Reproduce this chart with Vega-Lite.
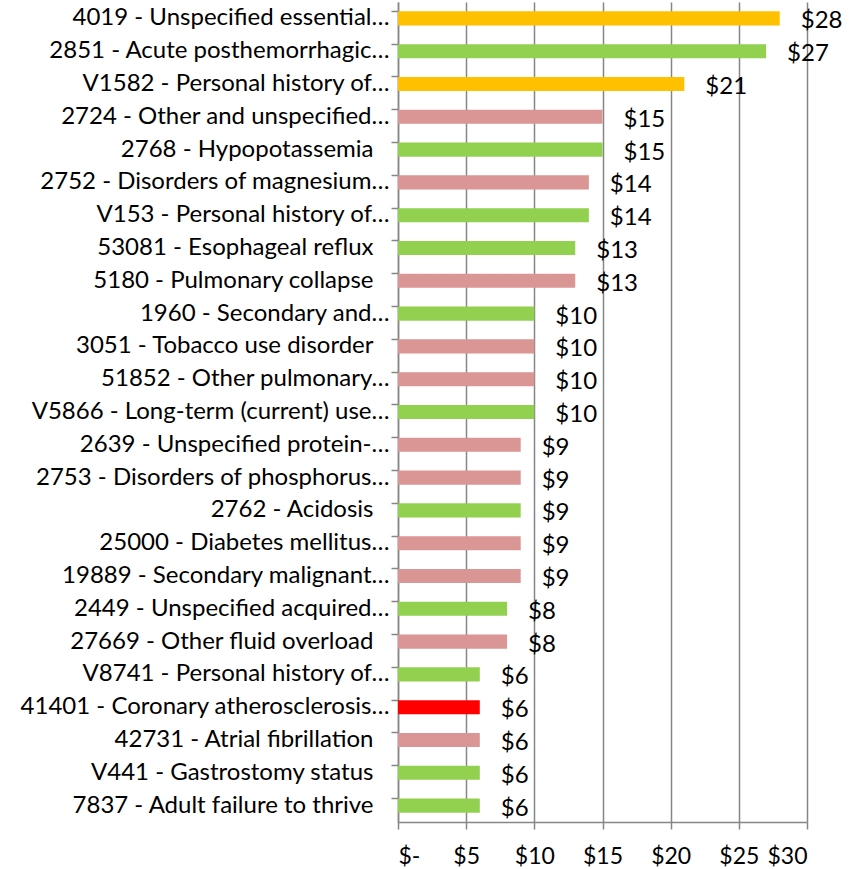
{
  "$schema": "https://vega.github.io/schema/vega-lite/v6.json",
  "autosize": "none",
  "width": 409,
  "height": 820,
  "padding": {"left": 398, "top": 2, "right": 50, "bottom": 47},
  "background": "white",
  "config": {"view": {"stroke": null}, "font": "Lato"},
  "data": {"values": [
    {"label": "4019 - Unspecified essential\u2026", "value": 28, "group": "orange"},
    {"label": "2851 - Acute posthemorrhagic\u2026", "value": 27, "group": "green"},
    {"label": "V1582 - Personal history of\u2026", "value": 21, "group": "orange"},
    {"label": "2724 - Other and unspecified\u2026", "value": 15, "group": "pink"},
    {"label": "2768 - Hypopotassemia", "value": 15, "group": "green"},
    {"label": "2752 - Disorders of magnesium\u2026", "value": 14, "group": "pink"},
    {"label": "V153 - Personal history of\u2026", "value": 14, "group": "green"},
    {"label": "53081 - Esophageal reflux", "value": 13, "group": "green"},
    {"label": "5180 - Pulmonary collapse", "value": 13, "group": "pink"},
    {"label": "1960 - Secondary and\u2026", "value": 10, "group": "green"},
    {"label": "3051 - Tobacco use disorder", "value": 10, "group": "pink"},
    {"label": "51852 - Other pulmonary\u2026", "value": 10, "group": "pink"},
    {"label": "V5866 - Long-term (current) use\u2026", "value": 10, "group": "green"},
    {"label": "2639 - Unspecified protein-\u2026", "value": 9, "group": "pink"},
    {"label": "2753 - Disorders of phosphorus\u2026", "value": 9, "group": "pink"},
    {"label": "2762 - Acidosis", "value": 9, "group": "green"},
    {"label": "25000 - Diabetes mellitus\u2026", "value": 9, "group": "pink"},
    {"label": "19889 - Secondary malignant\u2026", "value": 9, "group": "pink"},
    {"label": "2449 - Unspecified acquired\u2026", "value": 8, "group": "green"},
    {"label": "27669 - Other fluid overload", "value": 8, "group": "pink"},
    {"label": "V8741 - Personal history of\u2026", "value": 6, "group": "green"},
    {"label": "41401 - Coronary atherosclerosis\u2026", "value": 6, "group": "red"},
    {"label": "42731 - Atrial fibrillation", "value": 6, "group": "pink"},
    {"label": "V441 - Gastrostomy status", "value": 6, "group": "green"},
    {"label": "7837 - Adult failure to thrive", "value": 6, "group": "green"}
  ]},
  "encoding": {
    "y": {
      "field": "label", "type": "nominal", "sort": null,
      "scale": {"paddingInner": 0.57, "paddingOuter": 0.285},
      "axis": {
        "title": null, "bandPosition": 0, "tickSize": 7,
        "labelPadding": {"condition": {"test": "replace(datum.value, '\u2026', '') == datum.value", "value": 18}, "value": 2},
        "labelFontSize": 24, "labelColor": "#000000", "labelLimit": 400,
        "domainColor": "#868686", "domainWidth": 1.5, "tickColor": "#868686", "tickWidth": 1.5,
        "grid": false
      }
    },
    "x": {
      "field": "value", "type": "quantitative",
      "scale": {"domain": [0, 30], "nice": false},
      "axis": {
        "title": null, "values": [0, 5, 10, 15, 20, 25, 30],
        "labelExpr": "datum.value == 0 ? '$-' : '$' + datum.value",
        "labelFontSize": 23, "labelColor": "#000000", "labelPadding": 16,
        "tickSize": 7, "tickColor": "#868686", "tickWidth": 1.5,
        "domainColor": "#868686", "domainWidth": 1.5,
        "grid": true, "gridColor": "#868686", "gridWidth": 1.5
      }
    }
  },
  "layer": [
    {
      "mark": {"type": "bar"},
      "encoding": {
        "color": {
          "field": "group", "type": "nominal", "legend": null,
          "scale": {"domain": ["orange", "green", "pink", "red"], "range": ["#FFC000", "#92D050", "#D99694", "#FF0000"]}
        }
      }
    },
    {
      "mark": {"type": "text", "align": "left", "baseline": "middle", "dx": 21, "dy": 3, "fontSize": 24, "color": "#000000"},
      "encoding": {
        "text": {"field": "value", "type": "quantitative", "format": "$d"}
      }
    }
  ]
}
